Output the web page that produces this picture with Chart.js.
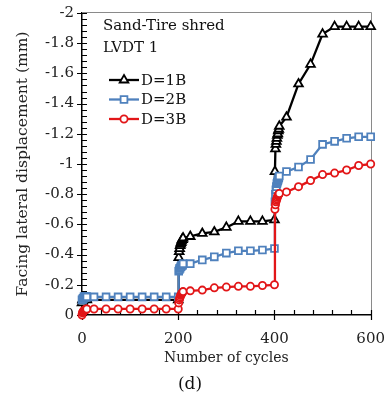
<!DOCTYPE html>
<html><head><meta charset="utf-8">
<script src="https://cdn.jsdelivr.net/npm/chart.js@4.4.1/dist/chart.umd.min.js"></script>
<style>
html,body{margin:0;padding:0;background:#fff;}
#wrap{position:relative;width:388px;height:398px;}
#cap{position:absolute;left:0;top:373px;width:380px;text-align:center;font:17px "DejaVu Serif";color:#111;}
</style></head><body>
<div id="wrap"><canvas id="c" width="388" height="398"></canvas><div id="cap">(d)</div></div>
<script>
const seriesNames = ['D=1B', 'D=2B', 'D=3B'];
const legendTitle = ['Sand-Tire shred', 'LVDT 1'];
const cyclesD1 = [0,1,2,3,4,5,6,7,8,9,10,200,201,202,203,204,205,206,207,208,209,210,225,250,275,300,325,350,375,400,401,402,403,404,405,406,407,408,409,410,425,450,475,500,525,550,575,600];
const cyclesAll = [0,1,2,3,4,5,6,7,8,9,10,25,50,75,100,125,150,175,200,201,202,203,204,205,206,207,208,209,210,225,250,275,300,325,350,375,400,401,402,403,404,405,406,407,408,409,410,425,450,475,500,525,550,575,600];
const d1B = [-0.08,-0.1,-0.1,-0.11,-0.11,-0.11,-0.11,-0.11,-0.11,-0.11,-0.1,
  -0.1,
  -0.38,-0.42,-0.44,-0.46,-0.47,-0.48,-0.49,-0.5,-0.5,-0.51,
  -0.52,-0.54,-0.55,-0.58,-0.62,-0.62,-0.62,-0.63,
  -0.95,-1.1,-1.13,-1.15,-1.17,-1.19,-1.2,-1.22,-1.23,-1.25,
  -1.31,-1.53,-1.66,-1.86,-1.91,-1.91,-1.91,-1.91];
const d2B = [-0.1,-0.1,-0.11,-0.11,-0.12,-0.12,-0.12,-0.12,-0.12,-0.12,-0.12,
  -0.12,-0.12,-0.12,-0.12,-0.12,-0.12,-0.12,-0.12,
  -0.29,-0.3,-0.31,-0.31,-0.32,-0.32,-0.33,-0.33,-0.33,-0.34,
  -0.34,-0.365,-0.385,-0.41,-0.425,-0.425,-0.43,-0.44,
  -0.75,-0.8,-0.83,-0.85,-0.87,-0.88,-0.89,-0.9,-0.91,-0.92,
  -0.95,-0.98,-1.03,-1.13,-1.15,-1.17,-1.18,-1.18];
const d3B = [0,-0.015,-0.02,-0.025,-0.03,-0.03,-0.035,-0.035,-0.035,-0.04,-0.04,
  -0.04,-0.04,-0.04,-0.04,-0.04,-0.04,-0.04,-0.04,
  -0.08,-0.1,-0.11,-0.12,-0.13,-0.135,-0.14,-0.145,-0.15,-0.155,
  -0.16,-0.165,-0.18,-0.185,-0.19,-0.19,-0.195,-0.2,
  -0.7,-0.73,-0.75,-0.76,-0.77,-0.78,-0.79,-0.795,-0.8,-0.805,
  -0.815,-0.85,-0.89,-0.93,-0.94,-0.96,-0.99,-1.0];
const xTickStep = 200, xMinorStep = 40;
const yTickStep = 0.2, yMinorStep = 0.04;

const toPts = (xs, ys) => xs.map((x, i) => ({x: x, y: ys[i]}));
const BLUE = 'rgb(79,129,189)', RED = 'rgb(226,22,24)', BLACK = '#000';
const FONT = '"DejaVu Serif", serif';

const framePlugin = {
  id: 'frame',
  beforeDatasetsDraw(chart) {
    const {ctx, chartArea: a, scales: {x, y}} = chart;
    ctx.save();
    ctx.strokeStyle = '#8a8a8a'; ctx.lineWidth = 1;
    ctx.beginPath();
    ctx.moveTo(a.left, Math.round(a.top) - 0.5);
    ctx.lineTo(Math.round(a.right) + 0.5, Math.round(a.top) - 0.5);
    ctx.lineTo(Math.round(a.right) + 0.5, a.bottom);
    ctx.stroke();
    ctx.strokeStyle = '#000'; ctx.lineWidth = 1.2;
    ctx.beginPath();
    for (let v = x.min; v <= x.max + 1e-9; v += xMinorStep) {
      const px = Math.round(x.getPixelForValue(v)) + 0.5;
      const major = Math.abs(v % xTickStep) < 1e-6;
      ctx.moveTo(px, a.bottom - 5);
      ctx.lineTo(px, a.bottom + (major ? 5 : 0));
    }
    const n = Math.round((y.max - y.min) / yMinorStep);
    for (let i = 0; i <= n; i++) {
      const v = y.min + i * yMinorStep;
      const py = Math.round(y.getPixelForValue(v)) + 0.5;
      const major = i % Math.round(yTickStep / yMinorStep) === 0;
      ctx.moveTo(a.left - (major ? 5 : 0), py);
      ctx.lineTo(a.left + 5, py);
    }
    ctx.stroke();
    ctx.restore();
  }
};

const legendPlugin = {
  id: 'innerLegend',
  afterDatasetsDraw(chart, args, opts) {
    const {ctx} = chart;
    ctx.save();
    ctx.font = '15px ' + FONT;
    ctx.fillStyle = '#111';
    ctx.textBaseline = 'middle';
    ctx.textAlign = 'left';
    legendTitle.forEach((t, i) => ctx.fillText(t, opts.x, opts.titleY + i * opts.titleGap));
    chart.data.datasets.forEach((ds, i) => {
      const yy = opts.itemY + i * opts.itemGap;
      ctx.strokeStyle = ds.borderColor; ctx.lineWidth = ds.borderWidth;
      ctx.beginPath(); ctx.moveTo(opts.lineX0, yy); ctx.lineTo(opts.lineX1, yy); ctx.stroke();
      ctx.fillStyle = ds.pointBackgroundColor; ctx.strokeStyle = ds.pointBorderColor;
      ctx.lineWidth = ds.pointBorderWidth;
      Chart.helpers.drawPoint(ctx, {pointStyle: ds.pointStyle, radius: ds.pointRadius, rotation: 0, borderWidth: ds.pointBorderWidth}, (opts.lineX0 + opts.lineX1) / 2, yy);
      ctx.fillStyle = '#111';
      ctx.fillText(ds.label, opts.textX, yy + 1);
    });
    ctx.restore();
  }
};

const mk = (label, xs, ys, color, style, r, order) => ({
  label: label, data: toPts(xs, ys), borderColor: color, borderWidth: 2.3,
  pointStyle: style, pointRadius: r, pointBorderWidth: 1.8, pointBorderColor: color,
  pointBackgroundColor: '#fff', tension: 0, clip: false, order: order
});

new Chart(document.getElementById('c'), {
  type: 'line',
  data: {datasets: [
    mk(seriesNames[0], cyclesD1, d1B, BLACK, 'triangle', 5, 3),
    mk(seriesNames[1], cyclesAll, d2B, BLUE, 'rect', 4.8, 2),
    mk(seriesNames[2], cyclesAll, d3B, RED, 'circle', 3.6, 1)
  ]},
  options: {
    responsive: false, animation: false, devicePixelRatio: 1,
    layout: {padding: {left: 0, top: 13, right: 10, bottom: 26}},
    plugins: {
      legend: {display: false}, tooltip: {enabled: false},
      innerLegend: {x: 103, titleY: 26, titleGap: 22, itemY: 80, itemGap: 19.5, lineX0: 109, lineX1: 139, textX: 141}
    },
    scales: {
      x: {
        type: 'linear', min: 0, max: 600,
        ticks: {stepSize: xTickStep, font: {family: FONT, size: 15}, color: '#222', padding: 3, maxRotation: 0},
        grid: {display: false, drawTicks: true, tickLength: 12},
        border: {display: true, color: '#000', width: 1.5},
        title: {display: true, text: 'Number of cycles', font: {family: FONT, size: 14}, color: '#222', padding: {top: 0, bottom: 5}},
        afterFit(s) { s.height = 57; }
      },
      y: {
        type: 'linear', min: -2, max: 0, reverse: true,
        ticks: {stepSize: yTickStep, font: {family: FONT, size: 15}, color: '#222', padding: 0,
          callback: v => (Math.abs(v) < 1e-9 ? '0' : String(Math.round(v * 10) / 10))},
        grid: {display: false, drawTicks: true, tickLength: 8},
        border: {display: true, color: '#000', width: 1.5},
        title: {display: true, text: 'Facing lateral displacement (mm)', font: {family: FONT, size: 15.5}, color: '#222', padding: {top: 14, bottom: 0}},
        afterFit(s) { s.width = 82; }
      }
    }
  },
  plugins: [framePlugin, legendPlugin]
});
</script>
</body></html>
